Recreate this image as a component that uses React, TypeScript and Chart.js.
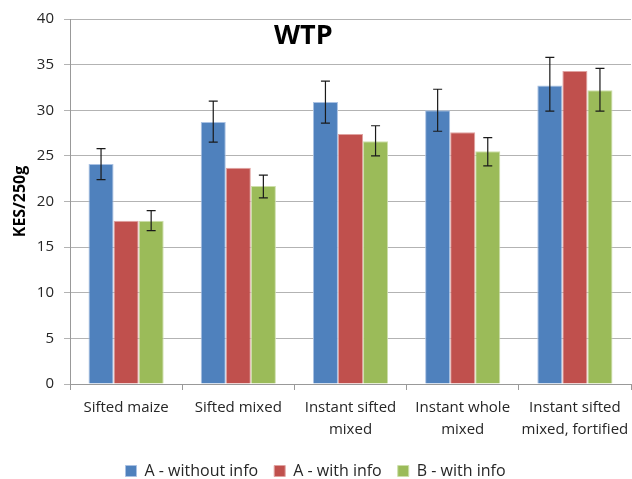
import React, { useEffect, useRef } from "react";
import { Chart, registerables } from "chart.js";

Chart.register(...registerables);

const categories: (string | string[])[] = [
  "Sifted maize",
  "Sifted mixed",
  ["Instant sifted", "mixed"],
  ["Instant whole", "mixed"],
  ["Instant sifted", "mixed, fortified"],
];

const seriesNames = ["A - without info", "A - with info", "B - with info"];

const aWithout = [24.1, 28.7, 30.9, 30.0, 32.7];
const aWith = [17.9, 23.7, 27.4, 27.6, 34.3];
const bWith = [17.9, 21.7, 26.6, 25.5, 32.2];

const aWithoutLow = [22.4, 26.5, 28.6, 27.7, 29.9];
const aWithoutHigh = [25.8, 31.0, 33.2, 32.3, 35.8];
const bWithLow = [16.8, 20.4, 25.0, 23.9, 29.9];
const bWithHigh = [19.0, 22.9, 28.3, 27.0, 34.6];

const yTicks = { min: 0, max: 40, step: 5 };

const FONT = "'Open Sans', sans-serif";
const TEXT = "#262626";

const errorBarPlugin = {
  id: "errorBars",
  afterDatasetsDraw(chart: any) {
    const ctx = chart.ctx;
    const yScale = chart.scales.y;
    chart.data.datasets.forEach((ds: any, di: number) => {
      if (!ds.errLow || !ds.errHigh) return;
      const meta = chart.getDatasetMeta(di);
      meta.data.forEach((bar: any, i: number) => {
        const x = bar.x;
        const yLo = yScale.getPixelForValue(ds.errLow[i]);
        const yHi = yScale.getPixelForValue(ds.errHigh[i]);
        const cap = 4.5;
        ctx.save();
        ctx.strokeStyle = "#1a1a1a";
        ctx.lineWidth = 1.2;
        ctx.beginPath();
        ctx.moveTo(x, yLo);
        ctx.lineTo(x, yHi);
        ctx.moveTo(x - cap, yHi);
        ctx.lineTo(x + cap, yHi);
        ctx.moveTo(x - cap, yLo);
        ctx.lineTo(x + cap, yLo);
        ctx.stroke();
        ctx.restore();
      });
    });
  },
};

const titlePlugin = {
  id: "overlayTitle",
  afterDraw(chart: any) {
    const ctx = chart.ctx;
    ctx.save();
    ctx.font = `bold 27px ${FONT}`;
    ctx.fillStyle = "#000";
    ctx.textAlign = "center";
    ctx.textBaseline = "middle";
    ctx.fillText("WTP", chart.width * 0.48, 36);
    ctx.restore();
  },
};

export default function App() {
  const ref = useRef<HTMLCanvasElement | null>(null);

  useEffect(() => {
    if (!ref.current) return;
    const chart = new Chart(ref.current, {
      type: "bar",
      data: {
        labels: categories as any,
        datasets: [
          {
            label: seriesNames[0],
            data: aWithout,
            backgroundColor: "#4F81BD",
            borderColor: "#a9c1e3",
            borderWidth: 1,
            errLow: aWithoutLow,
            errHigh: aWithoutHigh,
          } as any,
          {
            label: seriesNames[1],
            data: aWith,
            backgroundColor: "#C0504D",
            borderColor: "#e0a3a1",
            borderWidth: 1,
          },
          {
            label: seriesNames[2],
            data: bWith,
            backgroundColor: "#9BBB59",
            borderColor: "#cddfaa",
            borderWidth: 1,
            errLow: bWithLow,
            errHigh: bWithHigh,
          } as any,
        ],
      },
      options: {
        responsive: false,
        animation: false,
        devicePixelRatio: 1,
        layout: { padding: { top: 17, bottom: -10, left: 0, right: 1 } },
        datasets: {
          bar: { categoryPercentage: 0.67, barPercentage: 1.0 },
        },
        scales: {
          x: {
            grid: {
              display: true,
              drawOnChartArea: false,
              drawTicks: true,
              tickLength: 6,
              color: "#999999",
              offset: true,
            },
            border: { color: "#999999", width: 1 },
            ticks: {
              font: { family: FONT, size: 15, lineHeight: 1.45 },
              color: TEXT,
              padding: 7,
              maxRotation: 0,
              autoSkip: false,
            },
            afterFit(scale: any) {
              scale.height = 63;
              scale.paddingLeft = 0;
              scale.paddingRight = 0;
            },
          },
          y: {
            min: yTicks.min,
            max: yTicks.max,
            ticks: {
              stepSize: yTicks.step,
              font: { family: FONT, size: 15 },
              color: TEXT,
              padding: 10,
            },
            grid: {
              color: "#b3b3b3",
              lineWidth: 1,
              tickLength: 6,
            },
            border: { color: "#999999", width: 1 },
            title: {
              display: true,
              text: "KES/250g",
              font: { family: FONT, size: 16, weight: "bold" },
              color: "#000",
              padding: { top: 11, bottom: 0 },
            },
            afterFit(scale: any) {
              scale.width = 70;
            },
          },
        },
        plugins: {
          title: { display: false },
          tooltip: { enabled: false },
          legend: {
            display: true,
            position: "bottom",
            labels: {
              boxWidth: 11,
              boxHeight: 11,
              padding: 16,
              font: { family: FONT, size: 16 },
              color: TEXT,
            },
          },
        },
      },
      plugins: [errorBarPlugin, titlePlugin],
    });
    return () => chart.destroy();
  }, []);

  return (
    <div style={{ position: "fixed", left: 0, top: 0, width: 632, height: 479, background: "#fff" }}>
      <canvas ref={ref} width={632} height={479} style={{ display: "block" }} />
    </div>
  );
}
